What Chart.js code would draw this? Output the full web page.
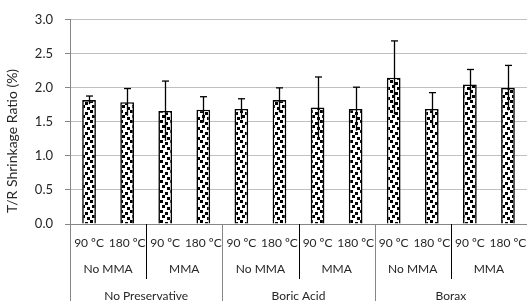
<!DOCTYPE html>
<html>
<head>
<meta charset="utf-8">
<script src="https://cdn.jsdelivr.net/npm/chart.js@4"></script>
<style>
html,body{margin:0;padding:0;background:#fff;}
#wrap{width:527px;height:301px;position:relative;}
</style>
</head>
<body>
<div id="wrap"><canvas id="c"></canvas></div>
<script>
const categories = ["90 ºC","180 ºC","90 ºC","180 ºC","90 ºC","180 ºC","90 ºC","180 ºC","90 ºC","180 ºC","90 ºC","180 ºC"];
const mmaGroups = ["No MMA","MMA","No MMA","MMA","No MMA","MMA"];
const preservativeGroups = ["No Preservative","Boric Acid","Borax"];
const values = [1.82,1.79,1.66,1.68,1.69,1.82,1.71,1.69,2.15,1.69,2.05,2.00];
const errors = [0.06,0.20,0.44,0.19,0.15,0.18,0.45,0.32,0.54,0.24,0.22,0.33];
const yTicks = [0.0,0.5,1.0,1.5,2.0,2.5,3.0];
const yTitle = 'T/R Shrinkage Ratio (%)';

function makePattern(){
  const p = document.createElement('canvas');
  p.width = 10; p.height = 10;
  const g = p.getContext('2d');
  g.fillStyle = '#ffffff'; g.fillRect(0,0,10,10);
  g.fillStyle = '#000000';
  [[0,0],[5,2],[2,5],[7,7]].forEach(([x,y])=>g.fillRect(x,y,3,3));
  return g.createPattern(p,'repeat');
}

const FONT = "Lato, 'Open Sans', sans-serif";
const TEXT = '#262626';

const extras = {
  id:'extras',
  afterDatasetsDraw(chart){
    const ctx = chart.ctx, x = chart.scales.x, y = chart.scales.y;
    ctx.save();
    ctx.strokeStyle = '#000'; ctx.lineWidth = 1.3;
    values.forEach((v,i)=>{
      const px = Math.round(x.getPixelForValue(i)) + 0.5;
      const top = y.getPixelForValue(v + errors[i]);
      const bot = y.getPixelForValue(v - errors[i]);
      ctx.beginPath(); ctx.moveTo(px, bot); ctx.lineTo(px, top); ctx.stroke();
      ctx.beginPath(); ctx.moveTo(px-3.5, top); ctx.lineTo(px+3.5, top); ctx.stroke();
    });
    ctx.restore();
  },
  afterDraw(chart){
    const ctx = chart.ctx, x = chart.scales.x, y = chart.scales.y;
    const base = y.getPixelForValue(0);
    const H = chart.height;
    const bound = i => (x.getPixelForValue(i-1) + x.getPixelForValue(i)) / 2;
    ctx.save();
    ctx.fillStyle = TEXT;
    ctx.save();
    ctx.font = "14px " + FONT;
    ctx.textAlign = 'center'; ctx.textBaseline = 'middle';
    ctx.translate(12, 141);
    ctx.rotate(-Math.PI/2);
    ctx.fillText(yTitle, 0, 0);
    ctx.restore();
    ctx.font = "12px " + FONT;
    ctx.textAlign = 'center'; ctx.textBaseline = 'middle';
    categories.forEach((c,i)=>{
      ctx.fillText(c, x.getPixelForValue(i), base + 19);
    });
    mmaGroups.forEach((g,k)=>{
      ctx.fillText(g, (x.getPixelForValue(2*k) + x.getPixelForValue(2*k+1))/2, base + 45);
    });
    preservativeGroups.forEach((g,k)=>{
      ctx.fillText(g, (x.getPixelForValue(4*k+1) + x.getPixelForValue(4*k+2))/2, base + 72);
    });
    ctx.lineWidth = 1;
    const left = Math.round(x.left) + 0.5;
    ctx.strokeStyle = '#868686';
    ctx.beginPath(); ctx.moveTo(left, base); ctx.lineTo(left, H); ctx.stroke();
    [2,6,10].forEach(b=>{
      const px = Math.round(bound(b)) + 0.5;
      ctx.strokeStyle = '#000';
      ctx.beginPath(); ctx.moveTo(px, base); ctx.lineTo(px, base + 55); ctx.stroke();
    });
    [4,8].forEach(b=>{
      const px = Math.round(bound(b)) + 0.5;
      ctx.strokeStyle = '#868686';
      ctx.beginPath(); ctx.moveTo(px, base); ctx.lineTo(px, H); ctx.stroke();
    });
    ctx.restore();
  }
};

new Chart(document.getElementById('c'), {
  type:'bar',
  data:{
    labels: categories,
    datasets:[{
      data: values,
      backgroundColor: makePattern(),
      borderColor:'#000',
      borderWidth:1.6,
      barPercentage:0.36,
      categoryPercentage:1.0
    }]
  },
  options:{
    responsive:true,
    maintainAspectRatio:false,
    animation:false,
    events:[],
    layout:{padding:{top:19,right:0,bottom:0,left:0}},
    plugins:{legend:{display:false},tooltip:{enabled:false}},
    scales:{
      x:{
        grid:{display:false, drawTicks:false},
        border:{display:true,color:'#868686',width:1},
        ticks:{display:false},
        afterFit(s){ s.height = 77; }
      },
      y:{
        min:0,max:3,
        afterBuildTicks(s){ s.ticks = yTicks.map(v=>({value:v})); },
        grid:{color:'#c0c0c0',lineWidth:1,drawTicks:true,tickLength:5,tickColor:'#868686'},
        border:{display:true,color:'#868686',width:1},
        ticks:{color:TEXT,font:{size:13,family:FONT},padding:12,callback:v=>v.toFixed(1)},
        title:{display:false},
        afterFit(s){ s.width = 70; }
      }
    }
  },
  plugins:[extras]
});
</script>
</body>
</html>
